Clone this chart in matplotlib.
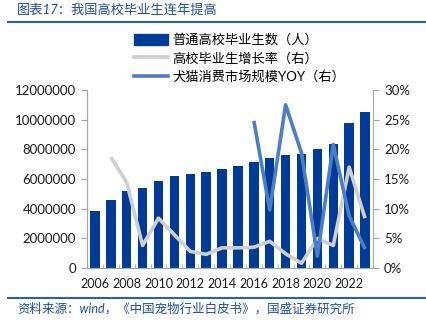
import matplotlib

matplotlib.use("Agg")
import matplotlib.pyplot as plt
import numpy as np
from matplotlib.lines import Line2D
from matplotlib.patches import Patch
from matplotlib.ticker import FuncFormatter

plt.rcParams["font.family"] = ["Lato", "Noto Sans CJK SC", "DejaVu Sans"]

years = list(range(2006, 2024))
# 普通高校毕业生数（人）
graduates = [3860000, 4570000, 5200000, 5400000, 5850000, 6170000, 6350000, 6480000,
             6680000, 6900000, 7130000, 7440000, 7600000, 7670000, 8050000, 8340000,
             9750000, 10540000]
# 高校毕业生增长率（右），2007 起
grad_growth = [None, 18.7, 14.4, 3.8, 8.4, 5.6, 2.8, 2.3, 3.4, 3.4, 3.5, 4.5, 2.4,
               0.8, 5.0, 3.8, 17.0, 8.4]
# 犬猫消费市场规模YOY（右），2016 起
pet_yoy = [None] * 10 + [24.8, 9.8, 27.5, 19.4, 2.0, 20.8, 8.8, 3.2]

BAR_C = "#003C97"
GRAY_C = "#CFCFCF"
LINE_C = "#4A7EC6"
TXT_BLUE = "#1F4EA0"
AX_C = "#A6A6A6"

fig = plt.figure(figsize=(4.26, 3.33), dpi=100)
ax = fig.add_axes([87 / 426, 1 - 268 / 333, 286 / 426, 178 / 333])
ax2 = ax.twinx()

x = np.arange(len(years))
ax.bar(x, graduates, width=0.6, color=BAR_C, zorder=2)

g = np.array([np.nan if v is None else v for v in grad_growth], dtype=float)
p = np.array([np.nan if v is None else v for v in pet_yoy], dtype=float)
ax2.plot(x, g, color=GRAY_C, lw=2.6, solid_capstyle="butt", zorder=3)
ax2.plot(x, p, color=LINE_C, lw=2.6, solid_capstyle="butt", zorder=4)

ax.set_xlim(-0.5, len(years) - 0.5)
ax.set_ylim(0, 12000000)
ax.set_yticks(np.arange(0, 12000001, 2000000))
ax.yaxis.set_major_formatter(FuncFormatter(lambda v, _: f"{int(v)}"))
ax2.set_ylim(0, 30)
ax2.set_yticks(np.arange(0, 31, 5))
ax2.yaxis.set_major_formatter(FuncFormatter(lambda v, _: f"{int(v)}%"))

ax.set_xticks(x[::2])
ax.set_xticklabels([str(y) for y in years[::2]])
ax.set_xticks(np.arange(-0.5, len(years), 1), minor=True)
ax.tick_params(axis="x", which="major", length=0, pad=7, labelsize=9, colors="#1a1a1a")
ax.tick_params(axis="x", which="minor", direction="in", length=3, color=AX_C)
ax.tick_params(axis="y", length=4, color=AX_C, labelsize=9.5, labelcolor="#1a1a1a", pad=4)
ax2.tick_params(axis="y", length=4, color=AX_C, labelsize=9.5, labelcolor="#1a1a1a", pad=4)

for a in (ax, ax2):
    a.spines["top"].set_visible(False)
    for s in ("left", "right", "bottom"):
        a.spines[s].set_color(AX_C)
        a.spines[s].set_linewidth(0.8)
ax.spines["right"].set_visible(False)

# title, rules and source line
fig.text(17 / 426, 1 - 9 / 333, "图表17：我国高校毕业生连年提高", color=TXT_BLUE,
         fontsize=9.5, style="italic", va="center", ha="left")
fig.add_artist(Line2D([8 / 426, 1], [1 - 22 / 333] * 2, color="#2E5DAA", lw=1.5))
fig.add_artist(Line2D([8 / 426, 1], [1 - 298 / 333] * 2, color="#2E5DAA", lw=1.5))
fig.text(17 / 426, 1 - 308 / 333, "资料来源：wind，《中国宠物行业白皮书》，国盛证券研究所",
         color=TXT_BLUE, fontsize=9, style="italic", va="center", ha="left")

handles = [Patch(color=BAR_C),
           Line2D([], [], color=GRAY_C, lw=2.6),
           Line2D([], [], color=LINE_C, lw=2.6)]
labels = ["普通高校毕业生数（人）", "高校毕业生增长率（右）", "犬猫消费市场规模YOY（右）"]
fig.legend(handles, labels, loc="center left", bbox_to_anchor=(127 / 426, 1 - 58 / 333),
           frameon=False, fontsize=9.5, handlelength=2.6, handleheight=0.9,
           handletextpad=0.35, labelspacing=0.45, borderpad=0)

fig.savefig("out.png", dpi=100)
